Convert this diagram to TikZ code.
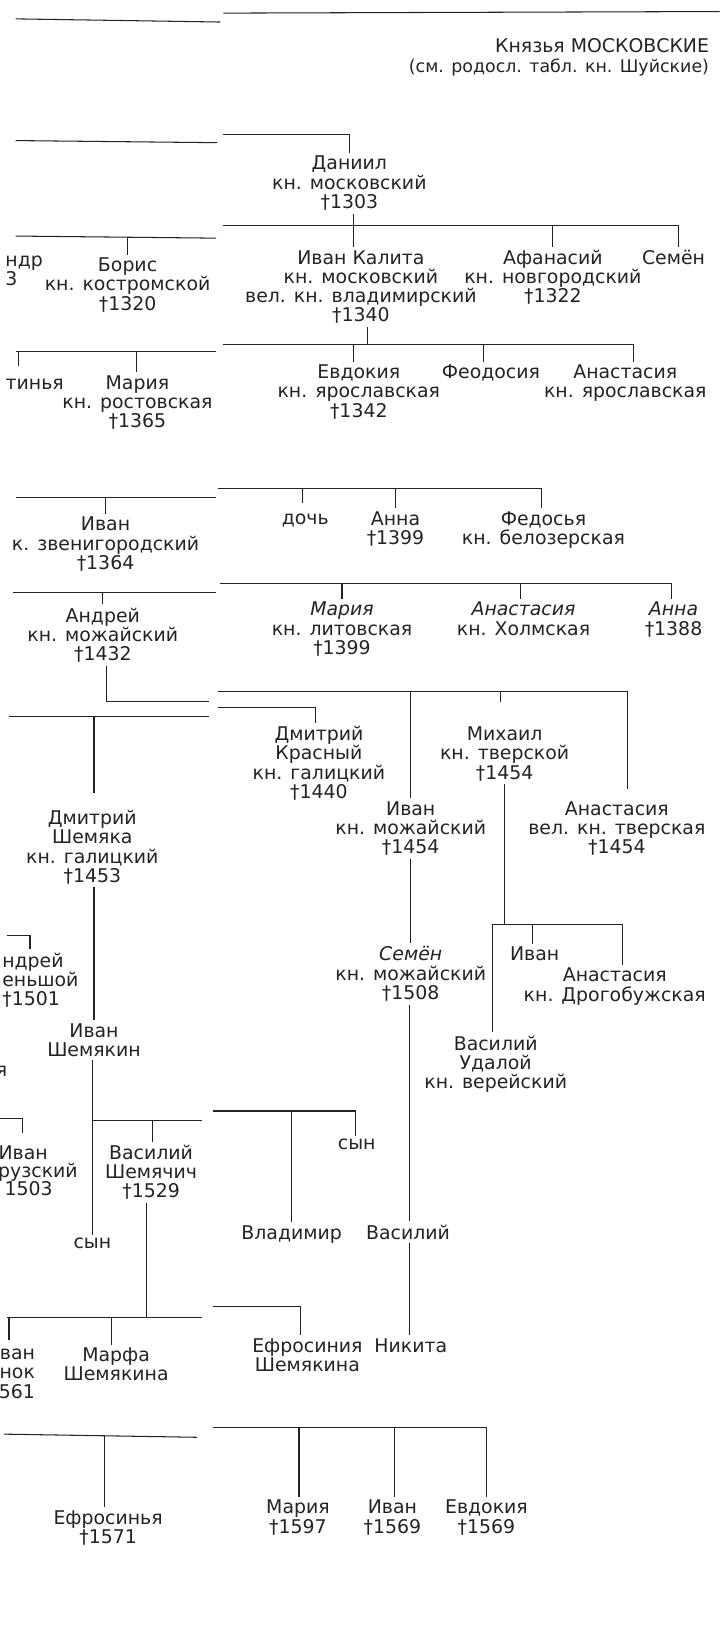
\documentclass[tikz,border=0pt]{standalone}
\usepackage{fontspec}
\setmainfont{DejaVu Sans}
\usepackage{tikz}
\definecolor{inkgrey}{RGB}{35,35,35}
\tikzset{
  person/.style={align=center, anchor=base, inner sep=3pt, text=inkgrey},
  piece/.style={align=left, anchor=base west, inner sep=0pt, text=inkgrey},
  kin/.style={draw=inkgrey, line width=1pt}
}

\begin{document}
\begin{tikzpicture}[
    x=1pt, y=-1pt,
    font=\fontsize{18}{18.3}\selectfont,
    header/.style={anchor=base east, inner sep=0pt, text=inkgrey}
  ]
  \useasboundingbox (0,0) rectangle (686,1568);

  % page edges
  \draw[kin] (15,18) -- (210,21);
  \draw[kin] (213,12.5) -- (686,11);

  \node[header, font=\fontsize{18}{20}\selectfont] (ttl) at (676,50) {Князья МОСКОВСКИЕ};
  \node[header, font=\fontsize{16.6}{18}\selectfont] (sub) at (676,69) {(см. родосл. табл. кн. Шуйские)};

  % Daniil (node base = last line)
  \node[person] (dan) at (333,198.6) {Даниил\\кн. московский\\†1303};
  \coordinate (danin) at (213,128);
  \coordinate (danup) at (333,128);
  \draw[kin] (15,134) -- (207,136);
  \draw[kin] (danin) -- (danup) -- (danup |- dan.north);

  % his children
  \node[piece] (aleks) at (5,272.3) {ндр\\3};
  \node[person] (bor) at (121.6,295.6) {Борис\\кн. костромской\\†1320};
  \node[person] (ikal) at (344,306.9) {Иван Калита\\кн. московский\\вел. кн. владимирский\\†1340};
  \node[person] (afan) at (527,288.6) {Афанасий\\кн. новгородский\\†1322};
  \node[person] (semen) at (642,252) {Семён};

  \coordinate (danbar) at (337,215);
  \coordinate (danl) at (213,215);
  \coordinate (danr) at (647,215);
  \coordinate (tafan) at (527,215);
  \draw[kin] (danbar |- dan.south) -- (danbar);
  \draw[kin] (danl) -- (danr) -- (danr |- semen.north);
  \draw[kin] (danbar) -- (danbar |- ikal.north);
  \draw[kin] (tafan) -- (tafan |- afan.north);

  \coordinate (borl) at (15,225);
  \coordinate (borr) at (206,227);
  \coordinate (tbor) at (121.6,226);
  \draw[kin] (borl) -- (borr);
  \draw[kin] (tbor) -- (tbor |- bor.north);

  % grandchildren
  \node[piece, anchor=base east] (tinya) at (61,371) {тинья};
  \node[person] (mar1) at (131,407.6) {Мария\\кн. ростовская\\†1365};
  \node[person] (evd) at (342,397.6) {Евдокия\\кн. ярославская\\†1342};
  \node[person] (feod) at (468,361) {Феодосия};
  \node[person] (anast1) at (596,379.3) {Анастасия\\кн. ярославская};

  \coordinate (ikbar) at (350,328.7);
  \coordinate (ikl) at (213,328.7);
  \coordinate (ikr) at (604,328.7);
  \coordinate (tevd) at (337,328.7);
  \coordinate (tfeod) at (461,328.7);
  \draw[kin] (ikbar |- ikal.south) -- (ikbar);
  \draw[kin] (ikl) -- (ikr) -- (ikr |- anast1.north);
  \draw[kin] (tevd) -- (tevd |- evd.north);
  \draw[kin] (tfeod) -- (tfeod |- feod.north);

  \coordinate (marl) at (15,335);
  \coordinate (marr) at (206,335);
  \coordinate (ttin) at (17.5,335);
  \coordinate (ttinend) at (17.5,349);
  \coordinate (tmar1) at (130,335);
  \draw[kin] (marl) -- (marr);
  \draw[kin] (ttin) -- (ttinend);
  \draw[kin] (tmar1) -- (tmar1 |- mar1.north);

  % Ivan of Zvenigorod row
  \node[person] (ivz) at (100.6,542.6) {Иван\\к. звенигородский\\†1364};
  \node[person] (doch) at (291,500) {дочь};
  \node[person] (anna1) at (377,519.3) {Анна\\†1399};
  \node[person] (fed) at (518,519.3) {Федосья\\кн. белозерская};

  \coordinate (ivzl) at (15,474);
  \coordinate (ivzr) at (206,474);
  \coordinate (tivz) at (100.6,474);
  \draw[kin] (ivzl) -- (ivzr);
  \draw[kin] (tivz) -- (tivz |- ivz.north);

  \coordinate (fedl) at (208,466);
  \coordinate (fedr) at (516,466);
  \coordinate (tdoch) at (288,466);
  \coordinate (tanna1) at (377,466);
  \draw[kin] (fedl) -- (fedr) -- (fedr |- fed.north);
  \draw[kin, shorten >=7pt] (tdoch) -- (tdoch |- doch.north);
  \draw[kin] (tanna1) -- (tanna1 |- anna1.north);

  % Andrei of Mozhaisk row
  \node[person] (andr) at (98,629.6) {Андрей\\кн. можайский\\†1432};
  \node[person] (mar2) at (326,623.6) {{\itshape Мария}\\кн. литовская\\†1399};
  \node[person] (anast2) at (499,605.3) {{\itshape Анастасия}\\кн. Холмская};
  \node[person] (anna2) at (642,605.3) {{\itshape Анна}\\†1388};

  \coordinate (andl) at (12,565);
  \coordinate (andrr) at (206,565);
  \coordinate (tandr) at (98,565);
  \draw[kin] (andl) -- (andrr);
  \draw[kin] (tandr) -- (tandr |- andr.north);

  \coordinate (m2l) at (210,556);
  \coordinate (m2r) at (640,556);
  \coordinate (tmar2) at (326,556);
  \coordinate (tan2) at (496,556);
  \draw[kin] (m2l) -- (m2r) -- (m2r |- anna2.north);
  \draw[kin] (tmar2) -- (tmar2 |- mar2.north);
  \draw[kin] (tan2) -- (tan2 |- anast2.north);

  % Andrei's and Yuri's lines
  \node[person] (dkr) at (304,760.9) {Дмитрий\\Красный\\кн. галицкий\\†1440};
  \node[person] (mih) at (481,742.6) {Михаил\\кн. тверской\\†1454};
  \node[person] (ivm) at (391.5,813.6) {Иван\\кн. можайский\\†1454};
  \node[person] (anast3) at (588,813.6) {Анастасия\\вел. кн. тверская\\†1454};
  \node[person] (shem) at (88,840.9) {Дмитрий\\Шемяка\\кн. галицкий\\†1453};

  \coordinate (andb) at (101.5,669);
  \coordinate (andb2) at (199,669);
  \draw[kin] (andb |- andr.south) -- (andb) -- (andb2);

  \coordinate (ch1l) at (208,659);
  \coordinate (ch1r) at (598,659);
  \coordinate (tivm) at (391.5,659);
  \coordinate (tmih) at (477,659);
  \coordinate (tmihend) at (477,669);
  \draw[kin] (ch1l) -- (ch1r);
  \draw[kin, shorten >=9pt] (ch1r) -- (ch1r |- anast3.north);
  \draw[kin] (tivm) -- (tivm |- ivm.north);
  \draw[kin] (tmih) -- (tmihend);

  \coordinate (dkrl) at (208,674.6);
  \coordinate (dkrr) at (301,674.6);
  \draw[kin] (dkrl) -- (dkrr) -- (dkrr |- dkr.north);

  \coordinate (shl) at (9,683);
  \coordinate (shr) at (199,683);
  \coordinate (tshem) at (89.6,683);
  \draw[kin] (shl) -- (shr);
  \draw[kin, shorten >=13pt] (tshem) -- (tshem |- shem.north);

  % next generation
  \node[person] (semm) at (391.5,952.6) {{\itshape Семён}\\кн. можайский\\†1508};
  \node[person] (iv2) at (509.6,916) {Иван};
  \node[person] (anast4) at (586,954.3) {Анастасия\\кн. Дрогобужская};
  \node[person] (vud) at (472.5,1037.6) {Василий\\Удалой\\кн. верейский};
  \node[piece] (andfr) at (2,958.6) {ндрей\\еньшой\\†1501};
  \node[person] (ivsh) at (89.6,1007.3) {Иван\\Шемякин};
  \node[piece, anchor=base east] (yafr) at (7,1026) {я};

  \draw[kin] (ivm.south) -- (semm.north);

  \coordinate (mihb) at (481,881);
  \coordinate (mihl) at (469,881);
  \coordinate (mihr) at (593,881);
  \coordinate (tiv2) at (507.4,881);
  \draw[kin] (mihb |- mih.south) -- (mihb);
  \draw[kin] (mihl) -- (mihr) -- (mihr |- anast4.north);
  \draw[kin] (mihl) -- (mihl |- vud.north);
  \draw[kin] (tiv2) -- (tiv2 |- iv2.north);

  \coordinate (andfra) at (6.4,892);
  \coordinate (andfrb) at (28.6,905);
  \draw[kin] (andfra) -| (andfrb);

  \draw[kin] (shem.south -| ivsh.north) -- (ivsh.north);

  % Shemyaka's grandsons and the Mozhaisk line
  \node[piece, anchor=base east] (ivfr1) at (45.7,1105) {Иван};
  \node[piece, anchor=base east] (ivfr2) at (74.3,1122) {рузский};
  \node[piece, anchor=base east] (ivfr3) at (50.5,1140) {1503};
  \node[person] (vsh) at (144,1141.6) {Василий\\Шемячич\\†1529};
  \node[person] (syn1) at (88,1190) {сын};
  \node[person] (syn2) at (340,1096) {сын};
  \node[person] (vlad) at (278,1181) {Владимир};
  \node[person] (vas) at (389,1181) {Василий};

  \coordinate (ivfra) at (0,1066);
  \coordinate (ivfrb) at (21,1080);
  \draw[kin] (ivfra) -| (ivfrb);

  \coordinate (ivshx) at (88,1067.6);
  \coordinate (ivshr) at (192.5,1067.6);
  \coordinate (tvsh) at (145,1067.6);
  \draw[kin] (ivsh.south -| ivshx) -- (ivshx |- syn1.north);
  \draw[kin] (ivshx) -- (ivshr);
  \draw[kin] (tvsh) -- (tvsh |- vsh.north);

  \coordinate (s2l) at (203,1059);
  \coordinate (s2r) at (339,1059);
  \coordinate (tvlad) at (278,1059);
  \draw[kin] (s2l) -- (s2r) -- (s2r |- syn2.north);
  \draw[kin] (tvlad) -- (tvlad |- vlad.north);

  \coordinate (semx) at (390,0);
  \draw[kin] (semm.south -| semx) -- (vas.north -| semx);

  % last generations
  \node[piece, align=right, anchor=base east] (vanfr) at (33.5,1332.6) {ван\\нок\\561};
  \node[person] (marfa) at (110.7,1316.3) {Марфа\\Шемякина};
  \node[person] (efr1) at (293,1307.3) {Ефросиния\\Шемякина};
  \node[person] (nik) at (391.5,1289) {Никита};

  \draw[kin] (vas.south -| semx) -- (nik.north -| semx);

  \coordinate (vshb) at (140,1256);
  \coordinate (vshl) at (6.5,1256);
  \coordinate (vshr) at (192.5,1256);
  \coordinate (tvan) at (8.6,1256);
  \coordinate (tvanend) at (8.6,1277);
  \coordinate (tmarfa) at (106,1256);
  \draw[kin] (vshb |- vsh.south) -- (vshb);
  \draw[kin] (vshl) -- (vshr);
  \draw[kin] (tvan) -- (tvanend);
  \draw[kin] (tmarfa) -- (tmarfa |- marfa.north);

  \coordinate (e1l) at (203,1245);
  \coordinate (e1r) at (286.5,1245);
  \draw[kin] (e1l) -- (e1r) -- (e1r |- efr1.north);

  \node[person] (efr2) at (103,1471.3) {Ефросинья\\†1571};
  \node[person] (mar3) at (284,1461.3) {Мария\\†1597};
  \node[person] (ivan3) at (374,1461.3) {Иван\\†1569};
  \node[person] (evd2) at (463.7,1461.3) {Евдокия\\†1569};

  \coordinate (e2l) at (4,1367);
  \coordinate (e2r) at (188,1370);
  \coordinate (tefr2) at (99.7,1368);
  \draw[kin] (e2l) -- (e2r);
  \draw[kin] (tefr2) -- (tefr2 |- efr2.north);

  \coordinate (kl) at (203,1360.5);
  \coordinate (kr) at (463.7,1360.5);
  \coordinate (tmar3) at (285,1360.5);
  \coordinate (tivan3) at (376,1360.5);
  \draw[kin] (kl) -- (kr) -- (kr |- evd2.north);
  \draw[kin] (tmar3) -- (tmar3 |- mar3.north);
  \draw[kin] (tivan3) -- (tivan3 |- ivan3.north);

\end{tikzpicture}
\end{document}
